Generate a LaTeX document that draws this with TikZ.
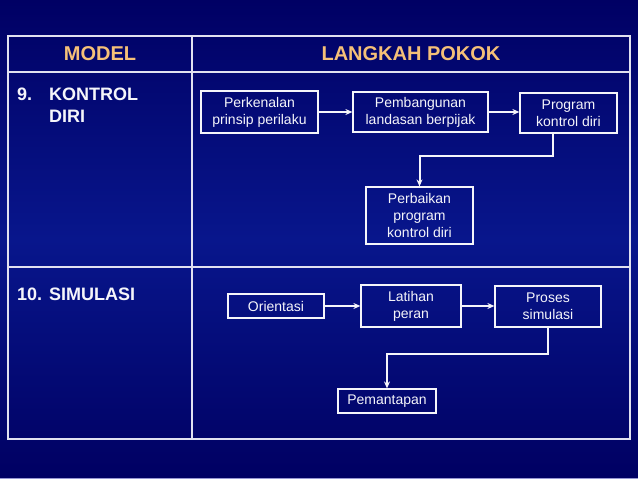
\documentclass[tikz,border=0pt]{standalone}
\usepackage{fontspec}
\setmainfont{Liberation Sans}
\usetikzlibrary{arrows.meta,calc}
\definecolor{bgtop}{RGB}{0,0,100}
\definecolor{bgmid}{RGB}{8,22,140}
\definecolor{bgbot}{RGB}{0,0,98}
\definecolor{tabline}{RGB}{225,225,240}
\definecolor{headtxt}{RGB}{245,192,120}
\definecolor{fg}{RGB}{245,245,250}
\tikzset{
  stepbox/.style={draw=fg, line width=1.2pt, text=fg, align=center, inner sep=0pt,
    font=\fontsize{14}{17}\selectfont},
  conn/.style={draw=fg, line width=2pt, -{Stealth[length=7pt,width=6pt]}},
  headtext/.style={text=headtxt, font=\fontsize{20}{24}\selectfont\bfseries},
  rowtext/.style={text=fg, font=\fontsize{18}{22}\selectfont\bfseries, anchor=base west, inner sep=0pt},
  tab/.style={draw=tabline, line width=1.6pt}
}
\begin{document}
\begin{tikzpicture}[x=1pt,y=-1pt]
\useasboundingbox (0,0) rectangle (638,479);
\shade[top color=bgtop, bottom color=bgbot, middle color=bgmid] (0,0) rectangle (638,479);
\draw[draw={rgb,255:red,150;green,150;blue,210}, line width=1pt] (0,478.5) -- (638,478.5);
% table
\draw[tab] (8,36) rectangle (630,439);
\draw[tab] (8,72) -- (630,72);
\draw[tab] (8,267) -- (630,267);
\draw[tab] (192,36) -- (192,439);
% headers
\node[headtext] (hmodel) at (100,54) {MODEL};
\node[headtext] (hlang) at (411,54) {LANGKAH POKOK};
% row labels
\node[rowtext] (n9) at (17,100) {9.};
\node[rowtext] (kontrol) at (49,100) {KONTROL};
\node[rowtext] (diri) at (49,122) {DIRI};
\node[rowtext] (n10) at (17,300) {10.};
\node[rowtext] (simulasi) at (49,300) {SIMULASI};
% row 1 boxes
\node[stepbox, minimum width=117pt, minimum height=42pt] (b1) at (259.5,112) {Perkenalan\\prinsip perilaku};
\node[stepbox, minimum width=135pt, minimum height=40pt] (b2) at (420.5,112) {Pembangunan\\landasan berpijak};
\node[stepbox, minimum width=97pt, minimum height=40pt] (b3) at (568.5,113) {Program\\kontrol diri};
\node[stepbox, minimum width=107pt, minimum height=57pt] (b4) at (419.5,215.5) {Perbaikan\\program\\kontrol diri};
\draw[conn] (b1.east) -- (b1.east -| b2.west);
\draw[conn] (b2.east) -- (b2.east -| b3.west);
\draw[conn] ([xshift=-15.5pt]b3.south) -- ++(0,22) -| (b4.north);
% row 2 boxes
\node[stepbox, minimum width=96pt, minimum height=24pt] (b5) at (276,306) {Orientasi};
\node[stepbox, minimum width=100pt, minimum height=42pt] (b6) at (411,306) {Latihan\\peran};
\node[stepbox, minimum width=106pt, minimum height=41pt] (b7) at (548,306.5) {Proses\\simulasi};
\node[stepbox, minimum width=98pt, minimum height=24pt] (b8) at (387,401) {Pemantapan};
\draw[conn] (b5.east) -- (b5.east -| b6.west);
\draw[conn] (b6.east) -- (b6.east -| b7.west);
\draw[conn] (b7.south) -- ++(0,26) -| (b8.north);
\end{tikzpicture}
\end{document}
